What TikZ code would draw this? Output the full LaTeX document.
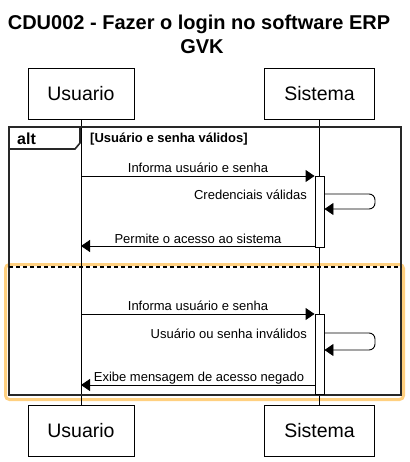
\documentclass[tikz,border=0pt]{standalone}
\usepackage{fontspec}
\setmainfont{Liberation Sans}
\usetikzlibrary{arrows.meta}
\definecolor{hl}{RGB}{255,208,128}
\definecolor{framec}{RGB}{40,40,40}
\tikzset{
  headbox/.style={draw, line width=0.9pt, minimum width=106pt, minimum height=51pt, inner sep=0pt, font=\fontsize{19.5}{22}\selectfont},
  act/.style={draw, fill=white, line width=0.9pt, minimum width=9pt, inner sep=0pt},
  msg/.style={line width=0.9pt, -{Triangle[length=9pt,width=12pt]}},
  lbl/.style={font=\fontsize{13}{15}\selectfont, inner sep=0pt},
  life/.style={line width=0.9pt},
  ttl/.style={font=\bfseries\fontsize{20}{24}\selectfont, inner sep=0pt, anchor=base},
  framel/.style={line width=1.6pt, draw=framec}
}
\begin{document}
\begin{tikzpicture}[x=1pt,y=-1pt]
\useasboundingbox (0,0) rectangle (409,462);
% title
\node[ttl] (title1) at (199,30) {CDU002 - Fazer o login no software ERP};
\node[ttl] (title2) at (202,54) {GVK};
% highlight
\draw[hl, line width=3pt, rounded corners=4pt] (5.5,264.5) rectangle (403.5,399.5);
% heads
\node[headbox] (uTop) at (81,93.5) {Usuario};
\node[headbox, minimum width=110pt] (sTop) at (319.5,93.5) {Sistema};
\node[headbox] (uBot) at (81,430.5) {Usuario};
\node[headbox, minimum width=110pt] (sBot) at (319.5,430.5) {Sistema};
% lifelines
\draw[life] (uTop.south) -- (uBot.north);
\draw[life] (sTop.south) -- (sBot.north);
% frame
\draw[framel] (9,127) rectangle (401,395);
\draw[framel] (9,149) -- (75,149) -- (80,143) -- (80,127);
\node[font=\bfseries\fontsize{16}{18}\selectfont, inner sep=0pt, anchor=base west] (alt) at (17,145) {alt};
\node[font=\bfseries\fontsize{13}{15}\selectfont, inner sep=0pt, anchor=base west] (guard) at (90,142.5) {[Usuário e senha válidos]};
\draw[line width=1.2pt, dash pattern=on 4pt off 3pt] (9,267) -- (401,267);
% activations
\node[act, minimum height=71pt] (act1) at (319.5,211.5) {};
\node[act, minimum height=80pt] (act2) at (319.5,354) {};
% messages section 1
\draw[msg] (uTop |- 0,176) -- (act1.west |- 0,176);
\node[lbl, anchor=base] (m1) at (198,173) {Informa usuário e senha};
\draw[msg, rounded corners=6pt] (act1.east |- 0,194) -- (375,194) -- (375,209) -- (act1.east |- 0,209);
\node[lbl, anchor=base east] (m2) at (307,200) {Credenciais válidas};
\draw[msg] (act1.west |- 0,246) -- (uTop |- 0,246);
\node[lbl, anchor=base] (m3) at (198,243) {Permite o acesso ao sistema};
% messages section 2
\draw[msg] (uTop |- 0,314) -- (act2.west |- 0,314);
\node[lbl, anchor=base] (m4) at (198,310) {Informa usuário e senha};
\draw[msg, rounded corners=6pt] (act2.east |- 0,333) -- (375,333) -- (375,350) -- (act2.east |- 0,350);
\node[lbl, anchor=base east] (m5) at (307,338) {Usuário ou senha inválidos};
\draw[msg] (act2.west |- 0,385) -- (uTop |- 0,385);
\node[lbl, anchor=base] (m6) at (199,381) {Exibe mensagem de acesso negado};
\end{tikzpicture}
\end{document}
